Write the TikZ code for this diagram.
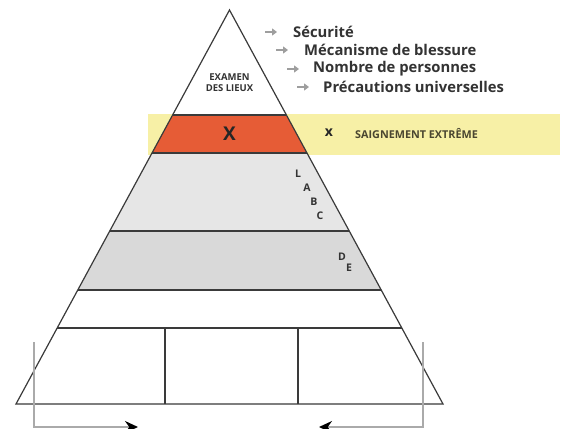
\documentclass[tikz,border=0pt]{standalone}
\usepackage{fontspec}
\setmainfont{Open Sans}
\usetikzlibrary{calc,arrows.meta}
\definecolor{yellowband}{HTML}{F7F0A6}
\definecolor{orangeband}{HTML}{E65C36}
\definecolor{grayone}{HTML}{E6E6E6}
\definecolor{graytwo}{HTML}{D9D9D9}
\definecolor{edge}{HTML}{3A3A3A}
\definecolor{txt}{HTML}{333333}
\definecolor{olivetxt}{HTML}{4A4630}
\definecolor{bracket}{HTML}{AAAAAA}
\begin{document}
\begin{tikzpicture}[x=1pt,y=-1pt,
  edgeline/.style={draw=edge,line width=1.2pt},
  listtxt/.style={font=\bfseries\fontsize{14.8}{16}\selectfont,text=txt,anchor=west,inner sep=0pt},
  listarrow/.style={draw=black!38,line width=1.8pt,-{Triangle[length=5pt,width=7pt]}},
  lettertxt/.style={font=\bfseries\fontsize{10.5}{11}\selectfont,text=txt,inner sep=0pt},
  bracketline/.style={draw=bracket,line width=1.5pt},
]
\useasboundingbox (0,0) rectangle (564,428);
\fill[white] (0,0) rectangle (564,428);
\coordinate (apex) at (229.5,10);
\coordinate (bl) at (16,404);
\coordinate (br) at (443,404);
\foreach \n/\y in {a/115,b/153,c/231,d/290,e/328} {
  \coordinate (L\n) at ($(apex)!{(\y-10)/394}!(bl)$);
  \coordinate (R\n) at ($(apex)!{(\y-10)/394}!(br)$);
}
% yellow band
\fill[yellowband] (148,114) rectangle (560,155);
% triangle fill
\fill[white] (apex) -- (La) -- (Ra) -- cycle;
\fill[orangeband] (La) -- (Ra) -- (Rb) -- (Lb) -- cycle;
\fill[grayone] (Lb) -- (Rb) -- (Rc) -- (Lc) -- cycle;
\fill[graytwo] (Lc) -- (Rc) -- (Rd) -- (Ld) -- cycle;
\fill[white] (Ld) -- (Rd) -- (br) -- (bl) -- cycle;
% lines
\foreach \n in {a,b,c,d,e} { \draw[edgeline] (L\n) -- (R\n); }
\coordinate (v1t) at (165,328); \coordinate (v1b) at (165,404);
\coordinate (v2t) at (298,328); \coordinate (v2b) at (298,404);
\draw[edgeline] (v1t) -- (v1b);
\draw[edgeline] (v2t) -- (v2b);
\draw[edgeline,line join=miter] (apex) -- (bl) -- (br) -- cycle;
% brackets
\coordinate (lbt) at (34,342); \coordinate (lbb) at (34,427); \coordinate (lbe) at (138,427);
\coordinate (rbt) at (423,342); \coordinate (rbb) at (423,427); \coordinate (rbe) at (319,427);
\draw[bracketline,-{Stealth[length=13pt,width=12pt,black]}] (lbt) -- (lbb) -- (lbe);
\draw[bracketline,-{Stealth[length=13pt,width=12pt,black]}] (rbt) -- (rbb) -- (rbe);
% list arrows
\foreach \i/\x/\y in {1/271/32,2/282/50,3/293/69,4/303/87} {
  \coordinate (as\i) at (\x-6,\y);
  \coordinate (ae\i) at (\x+6,\y);
  \draw[listarrow] (as\i) -- (ae\i);
}
% texts
\node[font=\bfseries\fontsize{9.5}{11}\selectfont,text=txt,align=center,inner sep=0pt] (examen) at (229.5,83) {EXAMEN\\DES LIEUX};
\node[listtxt] (t1) at (293,32) {Sécurité};
\node[listtxt] (t2) at (304,50) {Mécanisme de blessure};
\node[listtxt] (t3) at (313,69) {Nombre de personnes};
\node[listtxt] (t4) at (323,87) {Précautions universelles};
\node[font=\bfseries\fontsize{19}{20}\selectfont,text=black!85,inner sep=0pt] (bigx) at (229.5,134) {X};
\node[font=\bfseries\fontsize{14}{15}\selectfont,text=black!85,inner sep=0pt] (smallx) at (329,133) {x};
\node[font=\bfseries\fontsize{10.8}{12}\selectfont,text=olivetxt,anchor=west,inner sep=0pt] (saign) at (355,134) {SAIGNEMENT EXTRÊME};
\node[lettertxt] (lL) at (298,174) {L};
\node[lettertxt] (lA) at (307,188) {A};
\node[lettertxt] (lB) at (314,202) {B};
\node[lettertxt] (lC) at (320,216) {C};
\node[lettertxt] (lD) at (342,257) {D};
\node[lettertxt] (lE) at (349,268) {E};
\end{tikzpicture}
\end{document}
